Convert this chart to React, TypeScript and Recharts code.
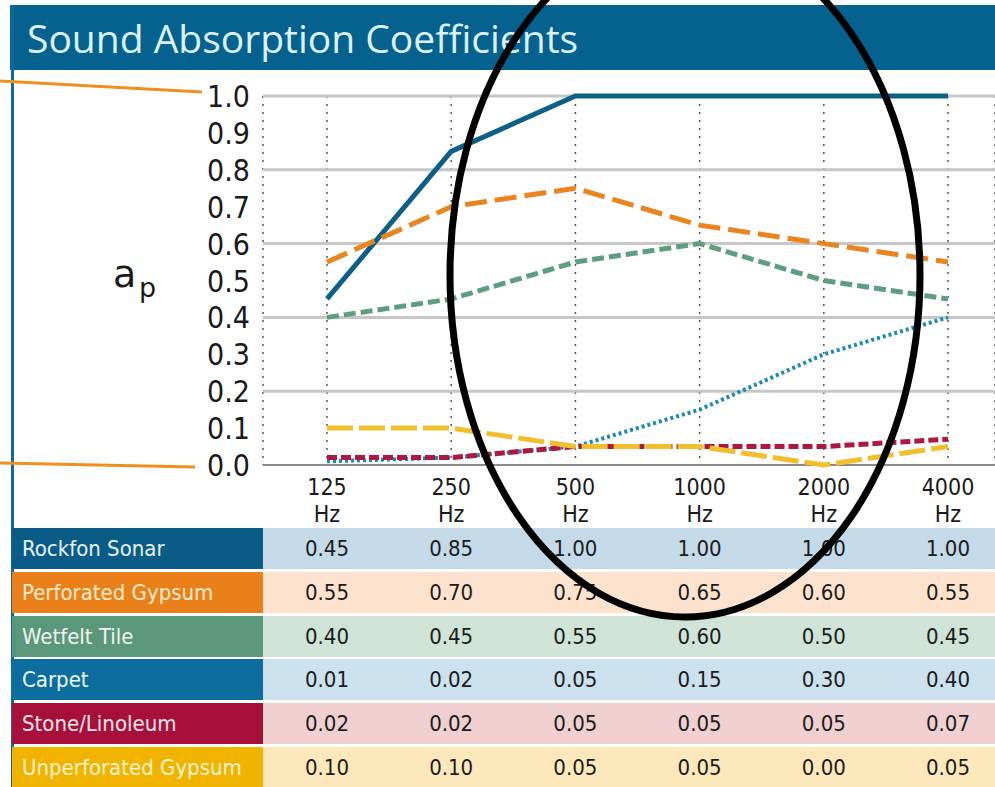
import React from 'react';
import { LineChart, Line, XAxis, YAxis, CartesianGrid, ReferenceLine } from 'recharts';

const categories = ['125', '250', '500', '1000', '2000', '4000'];
const rockfonSonar = [0.45, 0.85, 1.0, 1.0, 1.0, 1.0];
const perforatedGypsum = [0.55, 0.7, 0.75, 0.65, 0.6, 0.55];
const wetfeltTile = [0.4, 0.45, 0.55, 0.6, 0.5, 0.45];
const carpet = [0.01, 0.02, 0.05, 0.15, 0.3, 0.4];
const stoneLinoleum = [0.02, 0.02, 0.05, 0.05, 0.05, 0.07];
const unperforatedGypsum = [0.1, 0.1, 0.05, 0.05, 0.0, 0.05];
const yTicks = [0, 0.1, 0.2, 0.3, 0.4, 0.5, 0.6, 0.7, 0.8, 0.9, 1.0];
const gridValues = [0.2, 0.4, 0.6, 0.8, 1.0];

const series = [
  { key: 'rockfon', name: 'Rockfon Sonar', values: rockfonSonar, stroke: '#0d5f88', dash: undefined as string | undefined, width: 5, labelBg: '#0b5b87', cellBg: '#c5dae8', labelColor: '#e3f2fa' },
  { key: 'perforated', name: 'Perforated Gypsum', values: perforatedGypsum, stroke: '#e9841f', dash: '22 8', width: 5, labelBg: '#e9801a', cellBg: '#fde3cd', labelColor: '#fdeccd' },
  { key: 'wetfelt', name: 'Wetfelt Tile', values: wetfeltTile, stroke: '#5d9e80', dash: '12 5', width: 5, labelBg: '#5b987b', cellBg: '#cfe3d6', labelColor: '#f0f7f3' },
  { key: 'carpet', name: 'Carpet', values: carpet, stroke: '#1a88b9', dash: '3 3', width: 4, labelBg: '#0c6d9e', cellBg: '#cbe1ee', labelColor: '#eef7fb' },
  { key: 'stone', name: 'Stone/Linoleum', values: stoneLinoleum, stroke: '#ad1740', dash: '10 4', width: 5, labelBg: '#a6103a', cellBg: '#efcfd0', labelColor: '#f8e6ea' },
  { key: 'unperforated', name: 'Unperforated Gypsum', values: unperforatedGypsum, stroke: '#f1bf2c', dash: '26 6', width: 5, labelBg: '#f0b300', cellBg: '#fde8bb', labelColor: '#fff3cf' },
];

const data = categories.map((c, i) => {
  const row: Record<string, any> = { freq: c };
  series.forEach((s) => { row[s.key] = s.values[i]; });
  return row;
});

const COND = "'DejaVu Sans Condensed', 'Liberation Sans Narrow', 'DejaVu Sans', sans-serif";

const PLOT_LEFT = 263;
const PAD_LEFT = 64;
const PAD_RIGHT = 47;
const WIDTH = 995;
const STEP = (WIDTH - PLOT_LEFT - PAD_LEFT - PAD_RIGHT) / (categories.length - 1);

const YTick = (props: any) => {
  const { y, payload } = props;
  return (
    <text x={250} y={y} dy={11} textAnchor="end" fontFamily={COND} fontSize={30} fill="#1a1a1a">
      {Number(payload.value).toFixed(1)}
    </text>
  );
};

const XTick = (props: any) => {
  const { x, y, payload } = props;
  return (
    <text x={x} y={y} textAnchor="middle" fontFamily={COND} fontSize={23} fill="#1a1a1a">
      <tspan x={x} dy={22}>{payload.value}</tspan>
      <tspan x={x} dy={27}>Hz</tspan>
    </text>
  );
};

export default function App() {
  const rowTop = 528;
  const rowPeriod = 43.8;
  const rowH = 41;
  return (
    <div style={{ position: 'absolute', left: 0, top: 0, width: 995, height: 787, background: '#ffffff', overflow: 'hidden' }}>
      {/* title bar */}
      <div style={{ position: 'absolute', left: 10, top: 5, width: 985, height: 65, background: '#05628f', display: 'flex', alignItems: 'center' }}>
        <span style={{ marginLeft: 17, fontFamily: "'Open Sans', sans-serif", fontSize: 39, fontWeight: 500, color: '#dcf1f9', letterSpacing: 0 }}>
          Sound Absorption Coefficients
        </span>
      </div>
      {/* left frame */}
      <div style={{ position: 'absolute', left: 11, top: 5, width: 3, height: 782, background: '#0b6a9a' }} />

      <div style={{ position: 'absolute', left: 0, top: 0 }}>
        <LineChart width={995} height={530} data={data} margin={{ top: 96, right: 0, bottom: 0, left: 0 }}>
          <CartesianGrid horizontal={false} vertical={true} stroke="#555555" strokeDasharray="2 6" strokeWidth={1.5} />
          {gridValues.map((v) => (
            <ReferenceLine key={v} y={v} stroke="#c6c6c6" strokeWidth={3} />
          ))}
          <ReferenceLine y={0} stroke="#8a8a8a" strokeWidth={2} />
          <XAxis dataKey="freq" type="category" axisLine={false} tickLine={false} height={65} padding={{ left: PAD_LEFT, right: PAD_RIGHT }} tick={<XTick />} interval={0} />
          <YAxis type="number" domain={[0, 1]} ticks={yTicks} axisLine={false} tickLine={false} width={PLOT_LEFT} tick={<YTick />} interval={0} />
          {series.map((s) => (
            <Line
              key={s.key}
              dataKey={s.key}
              name={s.name}
              type="linear"
              stroke={s.stroke}
              strokeWidth={s.width}
              strokeDasharray={s.dash}
              dot={false}
              activeDot={false}
              isAnimationActive={false}
            />
          ))}
        </LineChart>
      </div>

      {/* table */}
      {series.map((s, r) => (
        <div key={s.key} style={{ position: 'absolute', left: 12, top: rowTop + r * rowPeriod, width: 983, height: rowH }}>
          <div style={{ position: 'absolute', left: 0, top: 0, width: PLOT_LEFT - 12, height: rowH, background: s.labelBg }}>
            <span style={{ position: 'absolute', left: 10, top: 0, lineHeight: rowH + 'px', fontFamily: COND, fontSize: 22, color: s.labelColor, whiteSpace: 'nowrap' }}>
              {s.name}
            </span>
          </div>
          <div style={{ position: 'absolute', left: PLOT_LEFT - 12, top: 0, width: WIDTH - PLOT_LEFT, height: rowH, background: s.cellBg }}>
            {s.values.map((v, i) => (
              <span
                key={i}
                style={{
                  position: 'absolute',
                  left: PAD_LEFT + i * STEP,
                  top: 0,
                  transform: 'translateX(-50%)',
                  lineHeight: rowH + 'px',
                  fontFamily: COND,
                  fontSize: 22,
                  color: '#1b1b1b',
                  whiteSpace: 'nowrap',
                }}
              >
                {v.toFixed(2)}
              </span>
            ))}
          </div>
        </div>
      ))}

      {/* annotations */}
      <svg width={995} height={787} style={{ position: 'absolute', left: 0, top: 0, pointerEvents: 'none' }}>
        <text x={113} y={287} fontFamily="'DejaVu Sans', sans-serif" fontSize={38} fill="#1a1a1a">a</text>
        <text x={139} y={297} fontFamily="'DejaVu Sans', sans-serif" fontSize={27} fill="#1a1a1a">p</text>
        <line x1={0} y1={81} x2={202} y2={92} stroke="#f0901c" strokeWidth={3} />
        <line x1={0} y1={463} x2={195} y2={467} stroke="#f0901c" strokeWidth={3} />
        <ellipse cx={685} cy={275} rx={235} ry={342} fill="none" stroke="#000000" strokeWidth={7} />
      </svg>
    </div>
  );
}
